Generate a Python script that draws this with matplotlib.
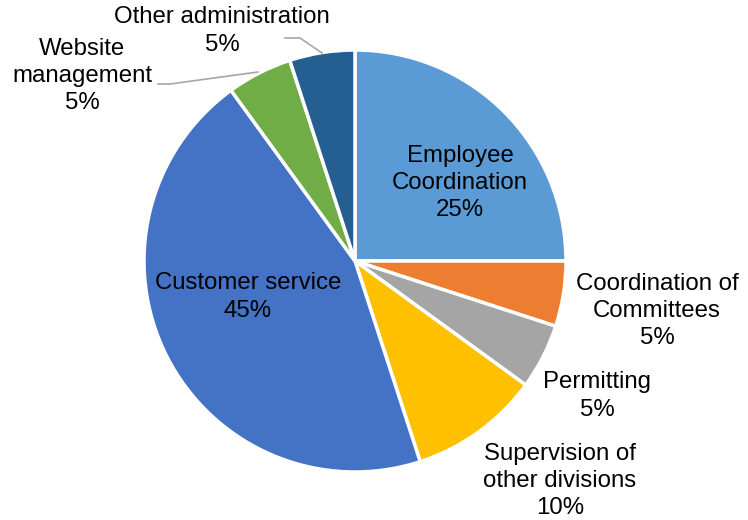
import matplotlib
matplotlib.use("Agg")
import matplotlib.pyplot as plt

categories = ["Employee\nCoordination", "Coordination of\nCommittees", "Permitting",
              "Supervision of\nother divisions", "Customer service",
              "Website\nmanagement", "Other administration"]
values = [25, 5, 5, 10, 45, 5, 5]
colors = ["#5B9BD5", "#ED7D31", "#A5A5A5", "#FFC000", "#4472C4", "#70AD47", "#255E91"]

plt.rcParams['font.family'] = ['Liberation Sans', 'DejaVu Sans']

W, H = 748, 520
fig = plt.figure(figsize=(W / 100, H / 100), dpi=100)
ax = fig.add_axes([0, 0, 1, 1])

cx, cy, r = 355, H - 261, 211
ax.pie(values, colors=colors, startangle=90, counterclock=False,
       center=(cx, cy), radius=r, frame=True,
       wedgeprops=dict(edgecolor="white", linewidth=2.5))
ax.set_xlim(0, W)
ax.set_ylim(0, H)
ax.set_aspect("equal")
ax.axis("off")

# label centers in pixel coords (x, y from top)
label_pos = [(460, 183), (657, 311), (597, 396), (560, 481), (248, 297), (82, 76), (222, 31)]
fs = 17.3
for cat, val, (px, py) in zip(categories, values, label_pos):
    ax.text(px, H - py, f"{cat}\n{val}%", ha="center", va="center",
            fontsize=fs, color="black", linespacing=1.3)

# leader lines
lc = "#A6A6A6"
ax.plot([285, 300, 322], [H - 38, H - 38, H - 53], color=lc, lw=1.2)
ax.plot([158, 170, 258], [H - 84, H - 84, H - 72], color=lc, lw=1.2)

fig.savefig("out.png", dpi=100)
